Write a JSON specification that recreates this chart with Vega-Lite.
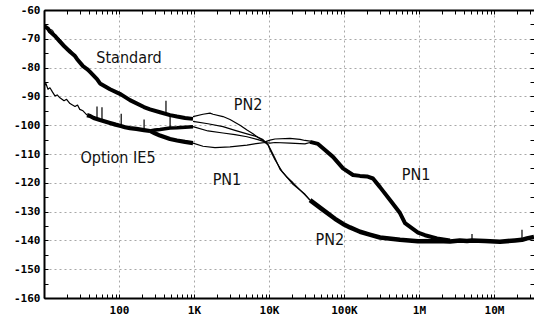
{
  "$schema": "https://vega.github.io/schema/vega-lite/v6.json",
  "width": 490,
  "height": 288,
  "autosize": "none",
  "padding": {"left": 44, "top": 10, "right": 0, "bottom": 18},
  "background": "white",
  "config": {"view": {"stroke": null}},
  "datasets": {
    "traces": [
      {"trace": "Standard", "freq": 10, "db": -65.5},
      {"trace": "Standard", "freq": 11.3, "db": -66.5},
      {"trace": "Standard", "freq": 12, "db": -67.5},
      {"trace": "Standard", "freq": 14, "db": -69},
      {"trace": "Standard", "freq": 16.3, "db": -71},
      {"trace": "Standard", "freq": 18.5, "db": -72.5},
      {"trace": "Standard", "freq": 22.2, "db": -74.5},
      {"trace": "Standard", "freq": 25.9, "db": -76},
      {"trace": "Standard", "freq": 27.5, "db": -77},
      {"trace": "Standard", "freq": 33.1, "db": -79.5},
      {"trace": "Standard", "freq": 37.5, "db": -80.5},
      {"trace": "Standard", "freq": 41.1, "db": -81.5},
      {"trace": "Standard", "freq": 50.9, "db": -84},
      {"trace": "Standard", "freq": 55.8, "db": -85.5},
      {"trace": "Standard", "freq": 75.9, "db": -87.5},
      {"trace": "Standard", "freq": 106, "db": -89.3},
      {"trace": "Standard", "freq": 140, "db": -91.3},
      {"trace": "Standard", "freq": 215, "db": -93.7},
      {"trace": "Standard", "freq": 259, "db": -94.5},
      {"trace": "Standard", "freq": 352, "db": -95.5},
      {"trace": "Standard", "freq": 479, "db": -96.5},
      {"trace": "Standard", "freq": 593, "db": -97},
      {"trace": "Standard", "freq": 759, "db": -97.5},
      {"trace": "Standard", "freq": 970, "db": -97.8},

      {"trace": "Standard overlay", "freq": 10, "db": -64.8},
      {"trace": "Standard overlay", "freq": 11.3, "db": -66.5},
      {"trace": "Standard overlay", "freq": 13, "db": -67},
      {"trace": "Standard overlay", "freq": 14.5, "db": -69.5},
      {"trace": "Standard overlay", "freq": 16, "db": -69.8},
      {"trace": "Standard overlay", "freq": 18, "db": -71.5},
      {"trace": "Standard overlay", "freq": 20, "db": -73.5},
      {"trace": "Standard overlay", "freq": 23, "db": -74},
      {"trace": "Standard overlay", "freq": 26, "db": -76.5},

      {"trace": "IE5 start", "freq": 10, "db": -86.5},
      {"trace": "IE5 start", "freq": 10.6, "db": -85.5},
      {"trace": "IE5 start", "freq": 11.3, "db": -87.5},
      {"trace": "IE5 start", "freq": 12, "db": -87},
      {"trace": "IE5 start", "freq": 13, "db": -88.5},
      {"trace": "IE5 start", "freq": 14, "db": -89.8},
      {"trace": "IE5 start", "freq": 15, "db": -89.5},
      {"trace": "IE5 start", "freq": 16.3, "db": -90.5},
      {"trace": "IE5 start", "freq": 18.5, "db": -91.5},
      {"trace": "IE5 start", "freq": 20, "db": -91},
      {"trace": "IE5 start", "freq": 22.2, "db": -92.5},
      {"trace": "IE5 start", "freq": 25.9, "db": -93.5},
      {"trace": "IE5 start", "freq": 28, "db": -93},
      {"trace": "IE5 start", "freq": 30, "db": -94.5},
      {"trace": "IE5 start", "freq": 33.1, "db": -95},
      {"trace": "IE5 start", "freq": 37.5, "db": -96.5},

      {"trace": "IE5", "freq": 37.5, "db": -96.5},
      {"trace": "IE5", "freq": 41.1, "db": -96.8},
      {"trace": "IE5", "freq": 46, "db": -97.5},
      {"trace": "IE5", "freq": 55.8, "db": -98.2},
      {"trace": "IE5", "freq": 65, "db": -98.7},
      {"trace": "IE5", "freq": 75.9, "db": -99.2},
      {"trace": "IE5", "freq": 90, "db": -99.8},
      {"trace": "IE5", "freq": 106, "db": -100.3},
      {"trace": "IE5", "freq": 120, "db": -100.7},
      {"trace": "IE5", "freq": 140, "db": -101},
      {"trace": "IE5", "freq": 170, "db": -101.3},
      {"trace": "IE5", "freq": 215, "db": -101.7},
      {"trace": "IE5", "freq": 259, "db": -102},

      {"trace": "IE5 upper", "freq": 259, "db": -102},
      {"trace": "IE5 upper", "freq": 300, "db": -101.7},
      {"trace": "IE5 upper", "freq": 352, "db": -101.5},
      {"trace": "IE5 upper", "freq": 479, "db": -101},
      {"trace": "IE5 upper", "freq": 593, "db": -100.9},
      {"trace": "IE5 upper", "freq": 759, "db": -100.7},
      {"trace": "IE5 upper", "freq": 970, "db": -100.5},

      {"trace": "IE5 lower", "freq": 259, "db": -102},
      {"trace": "IE5 lower", "freq": 300, "db": -102.8},
      {"trace": "IE5 lower", "freq": 352, "db": -103.6},
      {"trace": "IE5 lower", "freq": 420, "db": -104.3},
      {"trace": "IE5 lower", "freq": 479, "db": -104.8},
      {"trace": "IE5 lower", "freq": 593, "db": -105.3},
      {"trace": "IE5 lower", "freq": 759, "db": -105.8},
      {"trace": "IE5 lower", "freq": 970, "db": -106.2},

      {"trace": "Spike 1", "freq": 50.9, "db": -98},
      {"trace": "Spike 1", "freq": 50.9, "db": -93.5},
      {"trace": "Spike 2", "freq": 59.3, "db": -98.3},
      {"trace": "Spike 2", "freq": 59.3, "db": -93.8},
      {"trace": "Spike 3", "freq": 107, "db": -100.3},
      {"trace": "Spike 3", "freq": 107, "db": -96},
      {"trace": "Spike 4", "freq": 216, "db": -101.7},
      {"trace": "Spike 4", "freq": 216, "db": -98},
      {"trace": "Spike 5", "freq": 423, "db": -96},
      {"trace": "Spike 5", "freq": 423, "db": -91.5},
      {"trace": "Spike 6", "freq": 480, "db": -101},
      {"trace": "Spike 6", "freq": 480, "db": -96.5},
      {"trace": "Spike 7", "freq": 5090000, "db": -140},
      {"trace": "Spike 7", "freq": 5090000, "db": -137.8},
      {"trace": "Spike 8", "freq": 23620000, "db": -139.8},
      {"trace": "Spike 8", "freq": 23620000, "db": -136.3},

      {"trace": "Sweep A", "freq": 970, "db": -97},
      {"trace": "Sweep A", "freq": 1318, "db": -96.2},
      {"trace": "Sweep A", "freq": 1634, "db": -95.8},
      {"trace": "Sweep A", "freq": 1792, "db": -96.2},
      {"trace": "Sweep A", "freq": 2436, "db": -97},
      {"trace": "Sweep A", "freq": 3020, "db": -98},
      {"trace": "Sweep A", "freq": 4107, "db": -100},
      {"trace": "Sweep A", "freq": 5090, "db": -101.7},
      {"trace": "Sweep A", "freq": 6118, "db": -103},
      {"trace": "Sweep A", "freq": 7135, "db": -104.3},
      {"trace": "Sweep A", "freq": 8318, "db": -105.3},
      {"trace": "Sweep A", "freq": 9700, "db": -106.8},
      {"trace": "Sweep A", "freq": 10310, "db": -108},
      {"trace": "Sweep A", "freq": 12020, "db": -111.5},
      {"trace": "Sweep A", "freq": 14020, "db": -115.3},
      {"trace": "Sweep A", "freq": 17000, "db": -117.8},
      {"trace": "Sweep A", "freq": 20890, "db": -120},
      {"trace": "Sweep A", "freq": 28400, "db": -123.5},
      {"trace": "Sweep A", "freq": 35220, "db": -126},

      {"trace": "Sweep B", "freq": 970, "db": -98.7},
      {"trace": "Sweep B", "freq": 1537, "db": -99.5},
      {"trace": "Sweep B", "freq": 2436, "db": -100.5},
      {"trace": "Sweep B", "freq": 3522, "db": -101.8},
      {"trace": "Sweep B", "freq": 5090, "db": -103},
      {"trace": "Sweep B", "freq": 6918, "db": -104},
      {"trace": "Sweep B", "freq": 8318, "db": -105},
      {"trace": "Sweep B", "freq": 9700, "db": -106.8},
      {"trace": "Sweep B", "freq": 10310, "db": -108.5},
      {"trace": "Sweep B", "freq": 12020, "db": -112},
      {"trace": "Sweep B", "freq": 14900, "db": -116},
      {"trace": "Sweep B", "freq": 20890, "db": -120.5},
      {"trace": "Sweep B", "freq": 30200, "db": -124},
      {"trace": "Sweep B", "freq": 35220, "db": -126},

      {"trace": "Sweep C", "freq": 970, "db": -100.5},
      {"trace": "Sweep C", "freq": 1537, "db": -102},
      {"trace": "Sweep C", "freq": 2436, "db": -102.7},
      {"trace": "Sweep C", "freq": 3522, "db": -103.3},
      {"trace": "Sweep C", "freq": 5090, "db": -104},
      {"trace": "Sweep C", "freq": 7135, "db": -105},
      {"trace": "Sweep C", "freq": 8845, "db": -105.8},
      {"trace": "Sweep C", "freq": 10310, "db": -105.2},
      {"trace": "Sweep C", "freq": 12020, "db": -104.8},
      {"trace": "Sweep C", "freq": 19050, "db": -104.6},
      {"trace": "Sweep C", "freq": 25910, "db": -104.9},
      {"trace": "Sweep C", "freq": 30200, "db": -105.3},
      {"trace": "Sweep C", "freq": 35220, "db": -105.5},

      {"trace": "Sweep D", "freq": 970, "db": -106.2},
      {"trace": "Sweep D", "freq": 1318, "db": -107.3},
      {"trace": "Sweep D", "freq": 1905, "db": -107.8},
      {"trace": "Sweep D", "freq": 3020, "db": -107.5},
      {"trace": "Sweep D", "freq": 5090, "db": -106.9},
      {"trace": "Sweep D", "freq": 7135, "db": -106.3},
      {"trace": "Sweep D", "freq": 8845, "db": -106},
      {"trace": "Sweep D", "freq": 10310, "db": -106.2},
      {"trace": "Sweep D", "freq": 12020, "db": -106},
      {"trace": "Sweep D", "freq": 19050, "db": -106.2},
      {"trace": "Sweep D", "freq": 30200, "db": -106.5},
      {"trace": "Sweep D", "freq": 35220, "db": -106},

      {"trace": "PN1", "freq": 35220, "db": -105.8},
      {"trace": "PN1", "freq": 45020, "db": -106.5},
      {"trace": "PN1", "freq": 52480, "db": -108},
      {"trace": "PN1", "freq": 71350, "db": -111},
      {"trace": "PN1", "freq": 97000, "db": -115},
      {"trace": "PN1", "freq": 131800, "db": -117.3},
      {"trace": "PN1", "freq": 163400, "db": -117.6},
      {"trace": "PN1", "freq": 202600, "db": -117.8},
      {"trace": "PN1", "freq": 243600, "db": -118.5},
      {"trace": "PN1", "freq": 302000, "db": -121.5},
      {"trace": "PN1", "freq": 410700, "db": -126},
      {"trace": "PN1", "freq": 558000, "db": -130.5},
      {"trace": "PN1", "freq": 650700, "db": -134},
      {"trace": "PN1", "freq": 970000, "db": -137.3},
      {"trace": "PN1", "freq": 1202000, "db": -138.2},
      {"trace": "PN1", "freq": 1738000, "db": -139.3},
      {"trace": "PN1", "freq": 2591000, "db": -140},

      {"trace": "PN2", "freq": 35220, "db": -126},
      {"trace": "PN2", "freq": 52480, "db": -129.4},
      {"trace": "PN2", "freq": 75860, "db": -132.5},
      {"trace": "PN2", "freq": 97000, "db": -134.3},
      {"trace": "PN2", "freq": 120200, "db": -135.5},
      {"trace": "PN2", "freq": 163400, "db": -137},
      {"trace": "PN2", "freq": 220000, "db": -138},
      {"trace": "PN2", "freq": 302000, "db": -139},
      {"trace": "PN2", "freq": 558000, "db": -139.8},
      {"trace": "PN2", "freq": 970000, "db": -140.3},
      {"trace": "PN2", "freq": 1738000, "db": -140.2},
      {"trace": "PN2", "freq": 2591000, "db": -140.4},
      {"trace": "PN2", "freq": 3500000, "db": -140},
      {"trace": "PN2", "freq": 4365000, "db": -140.2},
      {"trace": "PN2", "freq": 5090000, "db": -140},
      {"trace": "PN2", "freq": 7586000, "db": -140.2},
      {"trace": "PN2", "freq": 12020000, "db": -140.5},
      {"trace": "PN2", "freq": 19050000, "db": -140},
      {"trace": "PN2", "freq": 23620000, "db": -139.8},
      {"trace": "PN2", "freq": 27540000, "db": -139.3},
      {"trace": "PN2", "freq": 34150000, "db": -138.8}
    ],
    "labels": [
      {"label": "Standard", "freq": 136, "db": -76.7},
      {"label": "Option IE5", "freq": 97, "db": -111.4},
      {"label": "PN2", "freq": 5250, "db": -93},
      {"label": "PN1", "freq": 2750, "db": -119},
      {"label": "PN1", "freq": 912000, "db": -117.3},
      {"label": "PN2", "freq": 64900, "db": -139.9}
    ]
  },
  "resolve": {"axis": {"x": "independent", "y": "independent"}},
  "layer": [
    {
      "data": {"name": "traces"},
      "mark": {"type": "line", "color": "black", "strokeJoin": "round", "strokeCap": "butt", "clip": true},
      "encoding": {
        "x": {
          "field": "freq", "type": "quantitative",
          "scale": {"type": "log", "domain": [10, 34150000], "nice": false},
          "axis": {
            "orient": "bottom",
            "title": null,
            "values": [10,20,30,40,50,60,70,80,90,100,200,300,400,500,600,700,800,900,1000,2000,3000,4000,5000,6000,7000,8000,9000,10000,20000,30000,40000,50000,60000,70000,80000,90000,100000,200000,300000,400000,500000,600000,700000,800000,900000,1000000,2000000,3000000,4000000,5000000,6000000,7000000,8000000,9000000,10000000,20000000,30000000],
            "labelExpr": "datum.value==100?'100':datum.value==1000?'1K':datum.value==10000?'10K':datum.value==100000?'100K':datum.value==1000000?'1M':datum.value==10000000?'10M':''",
            "labelOverlap": false,
            "labelFlush": false,
            "labelFont": "DejaVu Sans Mono",
            "labelFontWeight": "bold",
            "labelFontSize": 11,
            "labelColor": "black",
            "labelPadding": 10,
            "grid": true,
            "gridOpacity": {"condition": {"test": "indexof([100,1000,10000,100000,1000000,10000000], datum.value) >= 0", "value": 1}, "value": 0},
            "gridColor": "#a8a8a8",
            "gridDash": [2, 3],
            "gridWidth": 1,
            "tickSize": -4,
            "tickColor": "black",
            "tickWidth": 1,
            "domainColor": "black",
            "domainWidth": 2
          }
        },
        "y": {
          "field": "db", "type": "quantitative",
          "scale": {"domain": [-160, -60], "nice": false},
          "axis": {
            "orient": "left",
            "title": null,
            "values": [-160,-155,-150,-145,-140,-135,-130,-125,-120,-115,-110,-105,-100,-95,-90,-85,-80,-75,-70,-65,-60],
            "labelExpr": "datum.value % 10 == 0 ? '' + datum.value : ''",
            "labelOverlap": false,
            "labelFlush": false,
            "labelFont": "DejaVu Sans Mono",
            "labelFontWeight": "bold",
            "labelFontSize": 11,
            "labelColor": "black",
            "labelPadding": 8,
            "grid": true,
            "gridOpacity": {"condition": {"test": "datum.value % 10 == 0", "value": 1}, "value": 0},
            "gridColor": "#a8a8a8",
            "gridDash": [2, 3],
            "gridWidth": 1,
            "tickSize": -4,
            "tickColor": "black",
            "tickWidth": 1,
            "domainColor": "black",
            "domainWidth": 2
          }
        },
        "detail": {"field": "trace", "type": "nominal"},
        "strokeWidth": {
          "field": "trace", "type": "nominal",
          "scale": {
            "type": "ordinal",
            "domain": ["Standard", "Standard overlay", "IE5 start", "IE5", "IE5 upper", "IE5 lower", "Sweep A", "Sweep B", "Sweep C", "Sweep D", "PN1", "PN2", "Spike 1", "Spike 2", "Spike 3", "Spike 4", "Spike 5", "Spike 6", "Spike 7", "Spike 8"],
            "range": [4, 1, 1.2, 4.2, 3.5, 4.2, 1.2, 1.2, 1.2, 1.2, 4, 4.5, 1.2, 1.2, 1.2, 1.2, 1.2, 1.2, 1.2, 1.2]
          },
          "legend": null
        }
      }
    },
    {
      "data": {"name": "labels"},
      "mark": {"type": "text", "font": "DejaVu Sans Condensed, Liberation Sans Narrow, Roboto, sans-serif", "fontSize": 16, "color": "#111", "align": "center", "baseline": "middle"},
      "encoding": {
        "x": {
          "field": "freq", "type": "quantitative",
          "scale": {"type": "log", "domain": [10, 34150000], "nice": false},
          "axis": {
            "orient": "top",
            "title": null,
            "labels": false,
            "grid": false,
            "values": [10,20,30,40,50,60,70,80,90,100,200,300,400,500,600,700,800,900,1000,2000,3000,4000,5000,6000,7000,8000,9000,10000,20000,30000,40000,50000,60000,70000,80000,90000,100000,200000,300000,400000,500000,600000,700000,800000,900000,1000000,2000000,3000000,4000000,5000000,6000000,7000000,8000000,9000000,10000000,20000000,30000000],
            "tickSize": -4,
            "tickColor": "black",
            "tickWidth": 1,
            "domainColor": "black",
            "domainWidth": 2
          }
        },
        "y": {
          "field": "db", "type": "quantitative",
          "scale": {"domain": [-160, -60], "nice": false},
          "axis": {
            "orient": "right",
            "title": null,
            "labels": false,
            "grid": false,
            "domain": false,
            "values": [-160,-155,-150,-145,-140,-135,-130,-125,-120,-115,-110,-105,-100,-95,-90,-85,-80,-75,-70,-65,-60],
            "tickSize": -4,
            "tickColor": "black",
            "tickWidth": 1
          }
        },
        "text": {"field": "label", "type": "nominal"}
      }
    }
  ]
}
